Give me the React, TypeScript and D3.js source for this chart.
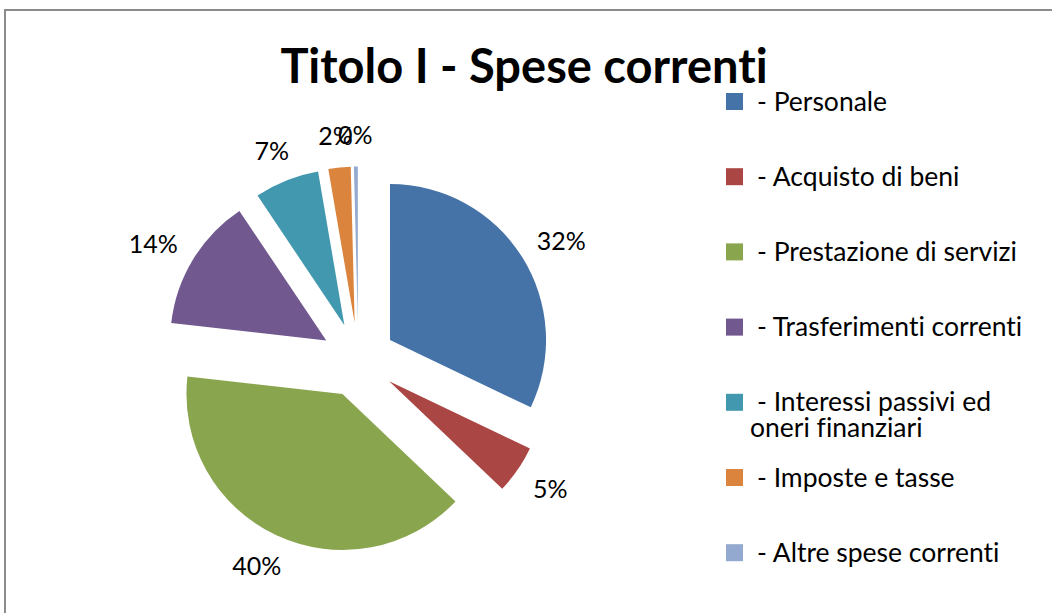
import React from "react";
import * as d3 from "d3";

const categories = [
  "- Personale",
  "- Acquisto di beni",
  "- Prestazione di servizi",
  "- Trasferimenti correnti",
  "- Interessi passivi ed\noneri finanziari",
  "- Imposte e tasse",
  "- Altre spese correnti",
];
const values = [32.1, 5.0, 39.7, 13.8, 6.7, 2.3, 0.4];
const colors = ["#4572A7", "#AA4643", "#89A54E", "#71588F", "#4198AF", "#DB843D", "#93A9CF"];
const title = "Titolo I - Spese correnti";

const W = 1052;
const H = 613;
const FONT = "Lato, 'Open Sans', sans-serif";

export default function App() {
  const cx = 358.3;
  const cy = 360;
  const r = 156;
  const explode = 37.5;
  const labelR = 216;

  const total = d3.sum(values);
  const pie = d3.pie<number>().sort(null).value((d) => d);
  const arcs = pie(values);
  const arcGen = d3.arc<d3.PieArcDatum<number>>().innerRadius(0).outerRadius(r);

  const legendX = 726;
  const legendY0 = 101.5;
  const legendStep = 75.2;
  const sq = 17;

  return (
    <svg
      width={W}
      height={H}
      style={{
        position: "absolute",
        left: 0,
        top: 0,
        background: "#fff",
        fontVariantLigatures: "none",
        fontFeatureSettings: '"liga" 0, "clig" 0',
      }}
      fontFamily={FONT}
    >
      <rect x={5} y={10} width={W + 10} height={H + 10} fill="#fff" stroke="#8c8c8c" strokeWidth={2} />
      <text x={524} y={83} textAnchor="middle" fontSize={47} fontWeight="bold" fill="#000">
        {title}
      </text>
      <g>
        {arcs.map((a, i) => {
          const mid = (a.startAngle + a.endAngle) / 2;
          const ux = Math.sin(mid);
          const uy = -Math.cos(mid);
          return (
            <path
              key={i}
              d={arcGen(a) || ""}
              transform={`translate(${cx + ux * explode},${cy + uy * explode})`}
              fill={colors[i]}
            />
          );
        })}
      </g>
      <g fontSize={25} fill="#000">
        {arcs.map((a, i) => {
          const mid = (a.startAngle + a.endAngle) / 2;
          const ux = Math.sin(mid);
          const uy = -Math.cos(mid);
          const lbl = Math.round((values[i] / total) * 100) + "%";
          const hw = 7 * lbl.length + 3;
          const hh = 10;
          const x = cx + ux * labelR + ux * hw;
          const y = cy + uy * labelR + uy * hh;
          return (
            <text key={i} x={x} y={y} textAnchor="middle" dominantBaseline="central">
              {lbl}
            </text>
          );
        })}
      </g>
      <g fontSize={26.5} fill="#000">
        {categories.map((c, i) => {
          const y = legendY0 + i * legendStep;
          const lines = c.split("\n");
          return (
            <g key={i}>
              <rect x={legendX} y={y - sq / 2} width={sq} height={sq} fill={colors[i]} />
              {lines.map((ln, j) => (
                <text key={j} x={j === 0 ? 757 : 750} y={y + 9 + j * 26}>
                  {ln}
                </text>
              ))}
            </g>
          );
        })}
      </g>
    </svg>
  );
}
